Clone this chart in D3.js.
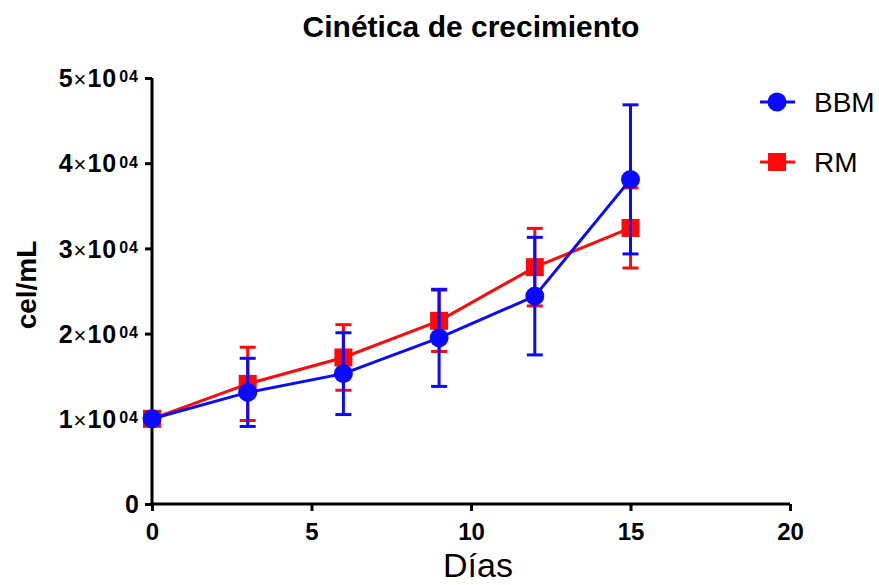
<!doctype html>
<html lang="es">
<head>
<meta charset="utf-8">
<title>Cinética de crecimiento</title>
<script src="https://cdnjs.cloudflare.com/ajax/libs/d3/7.8.5/d3.min.js"></script>
<style>
    body { margin: 0; background: #fff; }
    svg text { font-family: "Liberation Sans", Arial, sans-serif; fill: #000; }
</style>
</head>
<body>
<div id="chart"></div>
<script>
// data (cells/mL, mean and SD)
var days = [0, 3, 6, 9, 12, 15];
var bbmMean = [10000, 13100, 15300, 19500, 24400, 38100];
var bbmSd = [0, 4000, 4800, 5700, 6900, 8750];
var rmMean = [10000, 14100, 17200, 21500, 27800, 32400];
var rmSd = [0, 4300, 3850, 3600, 4550, 4700];
var xTicks = [0, 5, 10, 15, 20];
var yTicks = [0, 10000, 20000, 30000, 40000, 50000];

var width = 879, height = 585;
var margin = {left: 152, right: 89, top: 78, bottom: 81};

var svg = d3.select("#chart").append("svg")
    .attr("width", width)
    .attr("height", height);

var x = d3.scaleLinear().domain([0, 20]).range([margin.left, width - margin.right]);
var y = d3.scaleLinear().domain([0, 50000]).range([height - margin.bottom, margin.top]);

// title
svg.append("text")
    .attr("x", 471).attr("y", 37)
    .attr("text-anchor", "middle")
    .style("font-weight", "bold").style("font-size", "30px")
    .text("Cinética de crecimiento");

// x axis
var xAxis = svg.append("g")
    .attr("transform", "translate(0," + y(0) + ")")
    .call(d3.axisBottom(x).tickValues(xTicks).tickSize(7).tickPadding(12).tickFormat(d3.format("d")));
xAxis.select(".domain").attr("stroke-width", 3).attr("d", "M" + (x(0) - 1.5) + ",0H" + x(20));
xAxis.selectAll(".tick line").attr("stroke-width", 3);
xAxis.selectAll(".tick text")
    .style("font-weight", "bold").style("font-size", "24px")
    .style("font-family", "'Liberation Sans', Arial, sans-serif");

// y axis
var yAxis = svg.append("g")
    .attr("transform", "translate(" + x(0) + ",0)")
    .call(d3.axisLeft(y).tickValues(yTicks).tickSize(7).tickPadding(4).tickFormat(""));
yAxis.select(".domain").attr("stroke-width", 3).attr("d", "M0," + y(50000) + "V" + (y(0) + 1.5));
yAxis.selectAll(".tick line").attr("stroke-width", 3);
yAxis.selectAll(".tick").each(function (d) {
    var t = d3.select(this).append("text")
        .style("font-weight", "bold").style("font-size", "25px")
        .style("font-family", "'Liberation Sans', Arial, sans-serif")
        .attr("x", -13).attr("dy", "0.35em")
        .attr("text-anchor", "end");
    if (d === 0) { t.text("0"); return; }
    t.style("letter-spacing", "1px");
    t.append("tspan").text(d / 10000);
    t.append("tspan").style("font-weight", "normal").style("font-size", "22px").text("×");
    t.append("tspan").text("10");
    t.append("tspan").attr("dx", 2).attr("dy", "-0.3em").style("font-size", "16px").text("04");
});

// axis labels
svg.append("text")
    .attr("transform", "translate(36," + 285 + ") rotate(-90)")
    .attr("text-anchor", "middle")
    .style("font-weight", "bold").style("font-size", "28px")
    .text("cel/mL");

svg.append("text")
    .attr("x", 478).attr("y", 577)
    .attr("text-anchor", "middle")
    .style("font-size", "34px")
    .text("Días");

var series = [
    {name: "BBM", mean: bbmMean, sd: bbmSd, color: "#0a0aff", shape: "circle"},
    {name: "RM", mean: rmMean, sd: rmSd, color: "#ff0a0a", shape: "square"}
];

var line = d3.line()
    .x(function (d) { return x(d.day); })
    .y(function (d) { return y(d.v); });

function pts(s) {
    return days.map(function (dd, i) { return {day: dd, v: s.mean[i], sd: s.sd[i]}; });
}

function marker(g, s, cx, cy) {
    if (s.shape === "circle") {
        g.append("circle").attr("cx", cx).attr("cy", cy).attr("r", 9.5).attr("fill", s.color);
    } else {
        g.append("rect").attr("x", cx - 9).attr("y", cy - 9).attr("width", 18).attr("height", 18).attr("fill", s.color);
    }
}

// draw RM first, BBM on top
[series[1], series[0]].forEach(function (s) {
    var g = svg.append("g");
    var p = pts(s);
    // error bars
    var eb = g.selectAll(".eb").data(p.filter(function (d) { return d.sd > 0; })).enter().append("g");
    eb.append("line")
        .attr("x1", function (d) { return x(d.day); }).attr("x2", function (d) { return x(d.day); })
        .attr("y1", function (d) { return y(d.v + d.sd); }).attr("y2", function (d) { return y(d.v - d.sd); })
        .attr("stroke", s.color).attr("stroke-width", 3);
    [1, -1].forEach(function (sign) {
        eb.append("line")
            .attr("x1", function (d) { return x(d.day) - 8; }).attr("x2", function (d) { return x(d.day) + 8; })
            .attr("y1", function (d) { return y(d.v + sign * d.sd); }).attr("y2", function (d) { return y(d.v + sign * d.sd); })
            .attr("stroke", s.color).attr("stroke-width", 3);
    });
    g.append("path").datum(p)
        .attr("d", line)
        .attr("fill", "none").attr("stroke", s.color).attr("stroke-width", 3);
    p.forEach(function (d) { marker(g, s, x(d.day), y(d.v)); });
});

// legend
series.forEach(function (s, i) {
    var ly = 102 + i * 60;
    var g = svg.append("g");
    g.append("line").attr("x1", 760).attr("x2", 795).attr("y1", ly).attr("y2", ly)
        .attr("stroke", s.color).attr("stroke-width", 3);
    marker(g, s, 777, ly);
    g.append("text").attr("x", 814).attr("y", ly).attr("dy", "0.35em")
        .style("font-size", "28px").text(s.name);
});
</script>
</body>
</html>
